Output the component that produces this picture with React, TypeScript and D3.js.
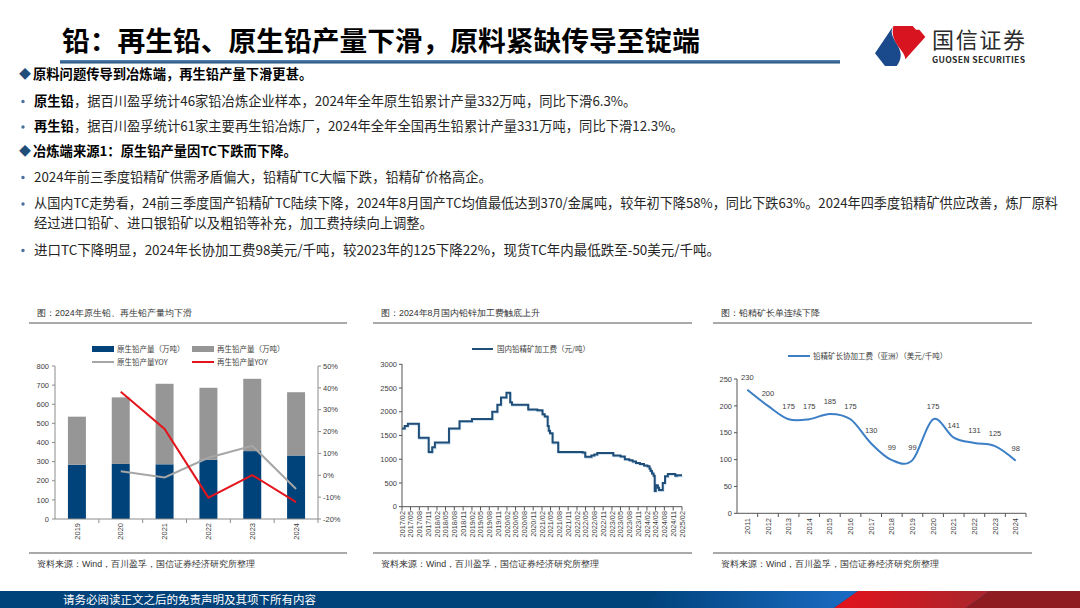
import * as d3 from "d3";

const cjk = "'Noto Sans CJK SC', 'Noto Sans', sans-serif";
const num = "'Liberation Sans', Arial, sans-serif";

// ---- chart 1: output ----
const years = ["2019", "2020", "2021", "2022", "2023", "2024"];
const primaryOutput = [284, 288, 286, 310, 355, 332];
const recycledOutput = [251, 348, 421, 376, 378, 331];
const primaryYoy = [null, 1.8, -1.0, 8.0, 13.5, -6.3];
const recycledYoy = [null, 38.2, 21.2, -10.2, 0.1, -12.3];

// ---- chart 2: domestic TC (step series) ----
const domesticTC: [string, number][] = [
  ["2017-02-01", 1650], ["2017-03-01", 1700], ["2017-04-03", 1750], ["2017-07-27", 1450],
  ["2017-11-06", 1150], ["2017-12-13", 1250], ["2018-01-10", 1350], ["2018-06-06", 1650],
  ["2018-09-24", 1800], ["2019-02-01", 1850], ["2019-09-01", 2000], ["2019-10-24", 2150],
  ["2019-12-01", 2300], ["2020-01-27", 2400], ["2020-03-06", 2200], ["2020-03-24", 2150],
  ["2020-09-10", 2050], ["2020-12-14", 2030], ["2021-02-06", 1950], ["2021-03-01", 1900],
  ["2021-04-01", 1700], ["2021-04-12", 1600], ["2021-04-25", 1550], ["2021-05-22", 1350],
  ["2021-07-20", 1150], ["2022-04-01", 1140], ["2022-04-28", 1050], ["2022-07-01", 1080],
  ["2022-08-01", 1100], ["2022-09-01", 1130], ["2023-02-15", 1080], ["2023-05-01", 1060],
  ["2023-06-15", 1000], ["2023-08-01", 980], ["2023-09-05", 950], ["2023-10-10", 920],
  ["2023-11-20", 900], ["2024-01-01", 870], ["2024-02-06", 850], ["2024-02-28", 800],
  ["2024-03-10", 750], ["2024-03-25", 700], ["2024-04-10", 650], ["2024-04-22", 330],
  ["2024-05-03", 450], ["2024-05-25", 400], ["2024-06-06", 350], ["2024-07-15", 500],
  ["2024-08-08", 640], ["2024-09-06", 690], ["2024-11-22", 650], ["2024-12-10", 660],
  ["2025-02-01", 660],
];

// ---- chart 3: long-term TC ----
const tcYears = ["2011", "2012", "2013", "2014", "2015", "2016", "2017", "2018", "2019", "2020", "2021", "2022", "2023", "2024"];
const tcValues = [230, 200, 175, 175, 185, 175, 130, 99, 99, 175, 141, 131, 125, 98];

// ---- body text ----
type Seg = { t: string; b?: boolean };
const bodyLines: { y: number; mark: "diamond" | "dot" | "none"; parts: Seg[]; len?: number }[] = [
  { y: 74, mark: "diamond", parts: [{ t: "原料问题传导到冶炼端，再生铅产量下滑更甚。", b: true }] },
  { y: 101, mark: "dot", parts: [{ t: "原生铅", b: true }, { t: "，据百川盈孚统计46家铅冶炼企业样本，2024年全年原生铅累计产量332万吨，同比下滑6.3%。" }] },
  { y: 126.5, mark: "dot", parts: [{ t: "再生铅", b: true }, { t: "，据百川盈孚统计61家主要再生铅冶炼厂，2024年全年全国再生铅累计产量331万吨，同比下滑12.3%。" }] },
  { y: 151, mark: "diamond", parts: [{ t: "冶炼端来源1：原生铅产量因TC下跌而下降。", b: true }] },
  { y: 177, mark: "dot", parts: [{ t: "2024年前三季度铅精矿供需矛盾偏大，铅精矿TC大幅下跌，铅精矿价格高企。" }] },
  { y: 203.5, mark: "dot", len: 1024, parts: [{ t: "从国内TC走势看，24前三季度国产铅精矿TC陆续下降，2024年8月国产TC均值最低达到370/金属吨，较年初下降58%，同比下跌63%。2024年四季度铅精矿供应改善，炼厂原料" }] },
  { y: 223.5, mark: "none", parts: [{ t: "经过进口铅矿、进口银铅矿以及粗铅等补充，加工费持续向上调整。" }] },
  { y: 250, mark: "dot", len: 686, parts: [{ t: "进口TC下降明显，2024年长协加工费98美元/千吨，较2023年的125下降22%，现货TC年内最低跌至-50美元/千吨。" }] },
];

const txt = "#404040";
const axisCol = "#8c8c8c";

function Frame({ x0, x1, title }: { x0: number; x1: number; title: string }) {
  return (
    <g>
      <text x={x0 + 8} y={316} fontSize={8.8} fill="#333">{title}</text>
      <line x1={x0} x2={x1} y1={323} y2={323} stroke="#8c8c8c" strokeWidth={1.5} />
      <line x1={x0} x2={x1} y1={553} y2={553} stroke="#8c8c8c" strokeWidth={1.5} />
      <text x={x0 + 8} y={567} fontSize={8.8} fill="#333">资料来源：Wind，百川盈孚，国信证券经济研究所整理</text>
    </g>
  );
}

function OutputChart() {
  const x = d3.scaleBand().domain(years).range([55, 318]).paddingInner(0.59).paddingOuter(0.295);
  const step = x.step();
  const yL = d3.scaleLinear().domain([0, 800]).range([519, 366]);
  const yR = d3.scaleLinear().domain([-20, 50]).range([519, 366]);
  const rows = years.map((y, i) => ({ year: y, primary: primaryOutput[i], recycled: recycledOutput[i] }));
  const stack = d3.stack<any>().keys(["primary", "recycled"])(rows);
  const colors = ["#00427a", "#969696"];
  const cx = (y: string) => (x(y) as number) + x.bandwidth() / 2;
  const line = d3
    .line<number | null>()
    .defined((d) => d != null)
    .x((_, i) => cx(years[i]))
    .y((d) => yR(d as number));
  return (
    <g fontFamily={num}>
      <Frame x0={29} x1={347} title="图：2024年原生铅、再生铅产量均下滑" />
      {/* legend */}
      <g fontFamily={cjk} fontSize={7.5} fill={txt}>
        <rect x={92} y={346} width={22} height={6} fill={colors[0]} />
        <text x={117} y={351.5}>原生铅产量（万吨）</text>
        <rect x={192} y={346} width={22} height={6} fill={colors[1]} />
        <text x={217} y={351.5}>再生铅产量（万吨）</text>
        <line x1={92} x2={114} y1={362} y2={362} stroke="#a6a6a6" strokeWidth={2} />
        <text x={117} y={364.5}>原生铅产量YOY</text>
        <line x1={192} x2={214} y1={362} y2={362} stroke="#e3141c" strokeWidth={2} />
        <text x={217} y={364.5}>再生铅产量YOY</text>
      </g>
      {stack.map((s, k) =>
        s.map((d, i) => (
          <rect key={k + "-" + i} x={x(years[i])} width={x.bandwidth()} y={yL(d[1])} height={yL(d[0]) - yL(d[1])} fill={colors[k]} />
        ))
      )}
      <path d={line(primaryYoy) as string} fill="none" stroke="#a6a6a6" strokeWidth={2} />
      <path d={line(recycledYoy) as string} fill="none" stroke="#e3141c" strokeWidth={2} />
      {/* axes */}
      <line x1={55} x2={55} y1={366} y2={519} stroke={axisCol} />
      <line x1={318} x2={318} y1={366} y2={519} stroke={axisCol} />
      <line x1={55} x2={318} y1={519} y2={519} stroke={axisCol} />
      {yL.ticks(8).map((t) => (
        <g key={"l" + t}>
          <line x1={52} x2={55} y1={yL(t)} y2={yL(t)} stroke={axisCol} />
          <text x={49} y={yL(t) + 2.7} fontSize={7.5} textAnchor="end" fill={txt}>{t}</text>
        </g>
      ))}
      {yR.ticks(7).map((t) => (
        <g key={"r" + t}>
          <line x1={318} x2={321} y1={yR(t)} y2={yR(t)} stroke={axisCol} />
          <text x={323} y={yR(t) + 2.7} fontSize={7.5} fill={txt}>{t + "%"}</text>
        </g>
      ))}
      {years.map((y, i) => (
        <g key={"x" + y}>
          <line x1={55 + step * (i + 1)} x2={55 + step * (i + 1)} y1={519} y2={523} stroke={axisCol} />
          <text transform={`translate(${cx(y) + 2.7},523) rotate(-90)`} fontSize={7.5} textAnchor="end" fill={txt}>{y}</text>
        </g>
      ))}
    </g>
  );
}

function DomesticTCChart() {
  const parse = d3.timeParse("%Y-%m-%d");
  const data = domesticTC.map(([d, v]) => ({ date: parse(d) as Date, v }));
  const x = d3.scaleTime().domain([new Date(2017, 1, 1), new Date(2025, 1, 1)]).range([402, 682]);
  const y = d3.scaleLinear().domain([0, 3000]).range([506.7, 364.3]);
  const line = d3
    .line<{ date: Date; v: number }>()
    .curve(d3.curveStepAfter)
    .x((d) => x(d.date))
    .y((d) => y(d.v));
  const ticks = d3.timeMonth.range(new Date(2017, 1, 1), new Date(2025, 1, 2), 3);
  const fmt = d3.timeFormat("%Y/%m");
  const c = "#1f4e79";
  return (
    <g fontFamily={num}>
      <Frame x0={373} x1={692} title="图：2024年8月国内铅锌加工费触底上升" />
      <line x1={472} x2={493} y1={349} y2={349} stroke={c} strokeWidth={2} />
      <text x={497} y={351.7} fontFamily={cjk} fontSize={7.5} fill={txt}>国内铅精矿加工费（元/吨）</text>
      <path d={line(data) as string} fill="none" stroke="#9dc3e6" strokeWidth={2} transform="translate(0.6,0.8)" opacity={0.6} />
      <path d={line(data) as string} fill="none" stroke={c} strokeWidth={2} />
      <line x1={402} x2={402} y1={364} y2={506.7} stroke="#555" />
      <line x1={402} x2={682} y1={506.7} y2={506.7} stroke="#555" />
      {y.ticks(6).map((t) => (
        <g key={"y" + t}>
          <line x1={399} x2={402} y1={y(t)} y2={y(t)} stroke="#555" />
          <text x={397} y={y(t) + 2.7} fontSize={7.5} textAnchor="end" fill={txt}>{t}</text>
        </g>
      ))}
      {ticks.map((t, i) => (
        <g key={"x" + i}>
          <line x1={x(t)} x2={x(t)} y1={506.7} y2={510.5} stroke="#555" />
          <text transform={`translate(${x(t) + 2.6},511) rotate(-90)`} fontSize={7.3} textAnchor="end" fill={txt}>{fmt(t)}</text>
        </g>
      ))}
    </g>
  );
}

function LongTermTCChart() {
  const x = d3.scaleBand().domain(tcYears).range([737, 1026]);
  const y = d3.scaleLinear().domain([0, 250]).range([513.3, 379]);
  const cx = (d: string) => (x(d) as number) + x.bandwidth() / 2;
  const line = d3
    .line<number>()
    .curve(d3.curveCatmullRom.alpha(0))
    .x((_, i) => cx(tcYears[i]))
    .y((d) => y(d));
  const c = "#3c7fc6";
  return (
    <g fontFamily={num}>
      <Frame x0={713} x1={1032} title="图：铅精矿长单连续下降" />
      <line x1={788} x2={810} y1={356} y2={356} stroke={c} strokeWidth={2} />
      <text x={813} y={358.7} fontFamily={cjk} fontSize={7.5} fill={txt}>铅精矿长协加工费（亚洲）（美元/千吨）</text>
      <path d={line(tcValues) as string} fill="none" stroke={c} strokeWidth={2} />
      {tcValues.map((v, i) => (
        <text key={"v" + i} x={cx(tcYears[i])} y={y(v) - 10} fontSize={7.5} textAnchor="middle" fill={txt}>{v}</text>
      ))}
      <line x1={737} x2={737} y1={379} y2={513.3} stroke="#555" />
      <line x1={737} x2={1026} y1={513.3} y2={513.3} stroke="#555" />
      {y.ticks(5).map((t) => (
        <g key={"y" + t}>
          <line x1={734} x2={737} y1={y(t)} y2={y(t)} stroke="#555" />
          <text x={732} y={y(t) + 2.7} fontSize={7.5} textAnchor="end" fill={txt}>{t}</text>
        </g>
      ))}
      {tcYears.map((d, i) => (
        <g key={"x" + d}>
          <line x1={737 + x.step() * (i + 1)} x2={737 + x.step() * (i + 1)} y1={513.3} y2={517} stroke="#555" />
          <text transform={`translate(${cx(d) + 2.6},518) rotate(-90)`} fontSize={7.5} textAnchor="end" fill={txt}>{d}</text>
        </g>
      ))}
    </g>
  );
}

function Logo() {
  return (
    <g>
      <g transform="translate(850,20) scale(0.3333)">
        <path d="M75,100 L130,18 C112,48 150,72 152,102 C153,118 146,130 140,138 L105,138 Z" fill="#1b4a8c" />
        <path d="M130,18 L188,18 L198,29 L208,29 L226,51 L166,118 C166,90 118,70 130,18 Z" fill="#d7141f" />
      </g>
      <text x={932} y={48} fontFamily={cjk} fontSize={22} fill="#2b2b2b" textLength={93}>国信证券</text>
      <text x={932} y={63} fontFamily={cjk} fontSize={8.6} fontWeight={700} fill="#2b2b2b" textLength={93}>GUOSEN SECURITIES</text>
    </g>
  );
}

export default function App() {
  return (
    <svg width={1080} height={608} viewBox="0 0 1080 608" style={{ position: "absolute", left: 0, top: 0, background: "#fff" }} fontFamily={cjk}>
      <defs>
        <linearGradient id="rule" x1="0" x2="0" y1="0" y2="1">
          <stop offset="0" stopColor="#5b87b8" />
          <stop offset="1" stopColor="#1f4e79" />
        </linearGradient>
        <linearGradient id="footBlue" x1="0" x2="1" y1="0" y2="0">
          <stop offset="0" stopColor="#00427a" />
          <stop offset="1" stopColor="#1a6cc4" />
        </linearGradient>
        <linearGradient id="footRed" x1="0" x2="1" y1="0" y2="0">
          <stop offset="0" stopColor="#e3121c" />
          <stop offset="1" stopColor="#a8262d" />
        </linearGradient>
      </defs>
      {/* header */}
      <text x={62} y={51} fontSize={27} fontWeight={700} fill="#000" textLength={638} lengthAdjust="spacingAndGlyphs">铅：再生铅、原生铅产量下滑，原料紧缺传导至锭端</text>
      <rect x={60} y={60} width={780} height={3.5} fill="url(#rule)" />
      <Logo />
      {/* body */}
      <g fontSize={13.3} fill="#262626">
        {bodyLines.map((l, i) => (
          <g key={i}>
            {l.mark === "diamond" && (
              <text x={19} y={l.y + 4.5} fontSize={12} fill="#1f4e79">◆</text>
            )}
            {l.mark === "dot" && <circle cx={23} cy={l.y + 0.5} r={1.7} fill="#4a6f9a" />}
            <text x={l.mark === "diamond" ? 33 : 34} y={l.y + 4.7} textLength={l.len} lengthAdjust={l.len ? "spacingAndGlyphs" : undefined}>
              {l.parts.map((p, j) => (
                <tspan key={j} fontWeight={p.b ? 700 : 400} fill={p.b ? "#000" : "#262626"}>{p.t}</tspan>
              ))}
            </text>
          </g>
        ))}
      </g>
      <OutputChart />
      <DomesticTCChart />
      <LongTermTCChart />
      {/* footer */}
      <rect x={0} y={591} width={1080} height={17} fill="#00427a" />
      <polygon points="640,608 660,591 858,591 834,608" fill="url(#footBlue)" />
      <polygon points="858,591 990,591 966,608 834,608" fill="url(#footRed)" />
      <polygon points="990,591 1080,591 1080,608 966,608" fill="#8e1c21" />
      <text x={63} y={604} fontSize={11.5} fill="#fff">请务必阅读正文之后的免责声明及其项下所有内容</text>
    </svg>
  );
}
